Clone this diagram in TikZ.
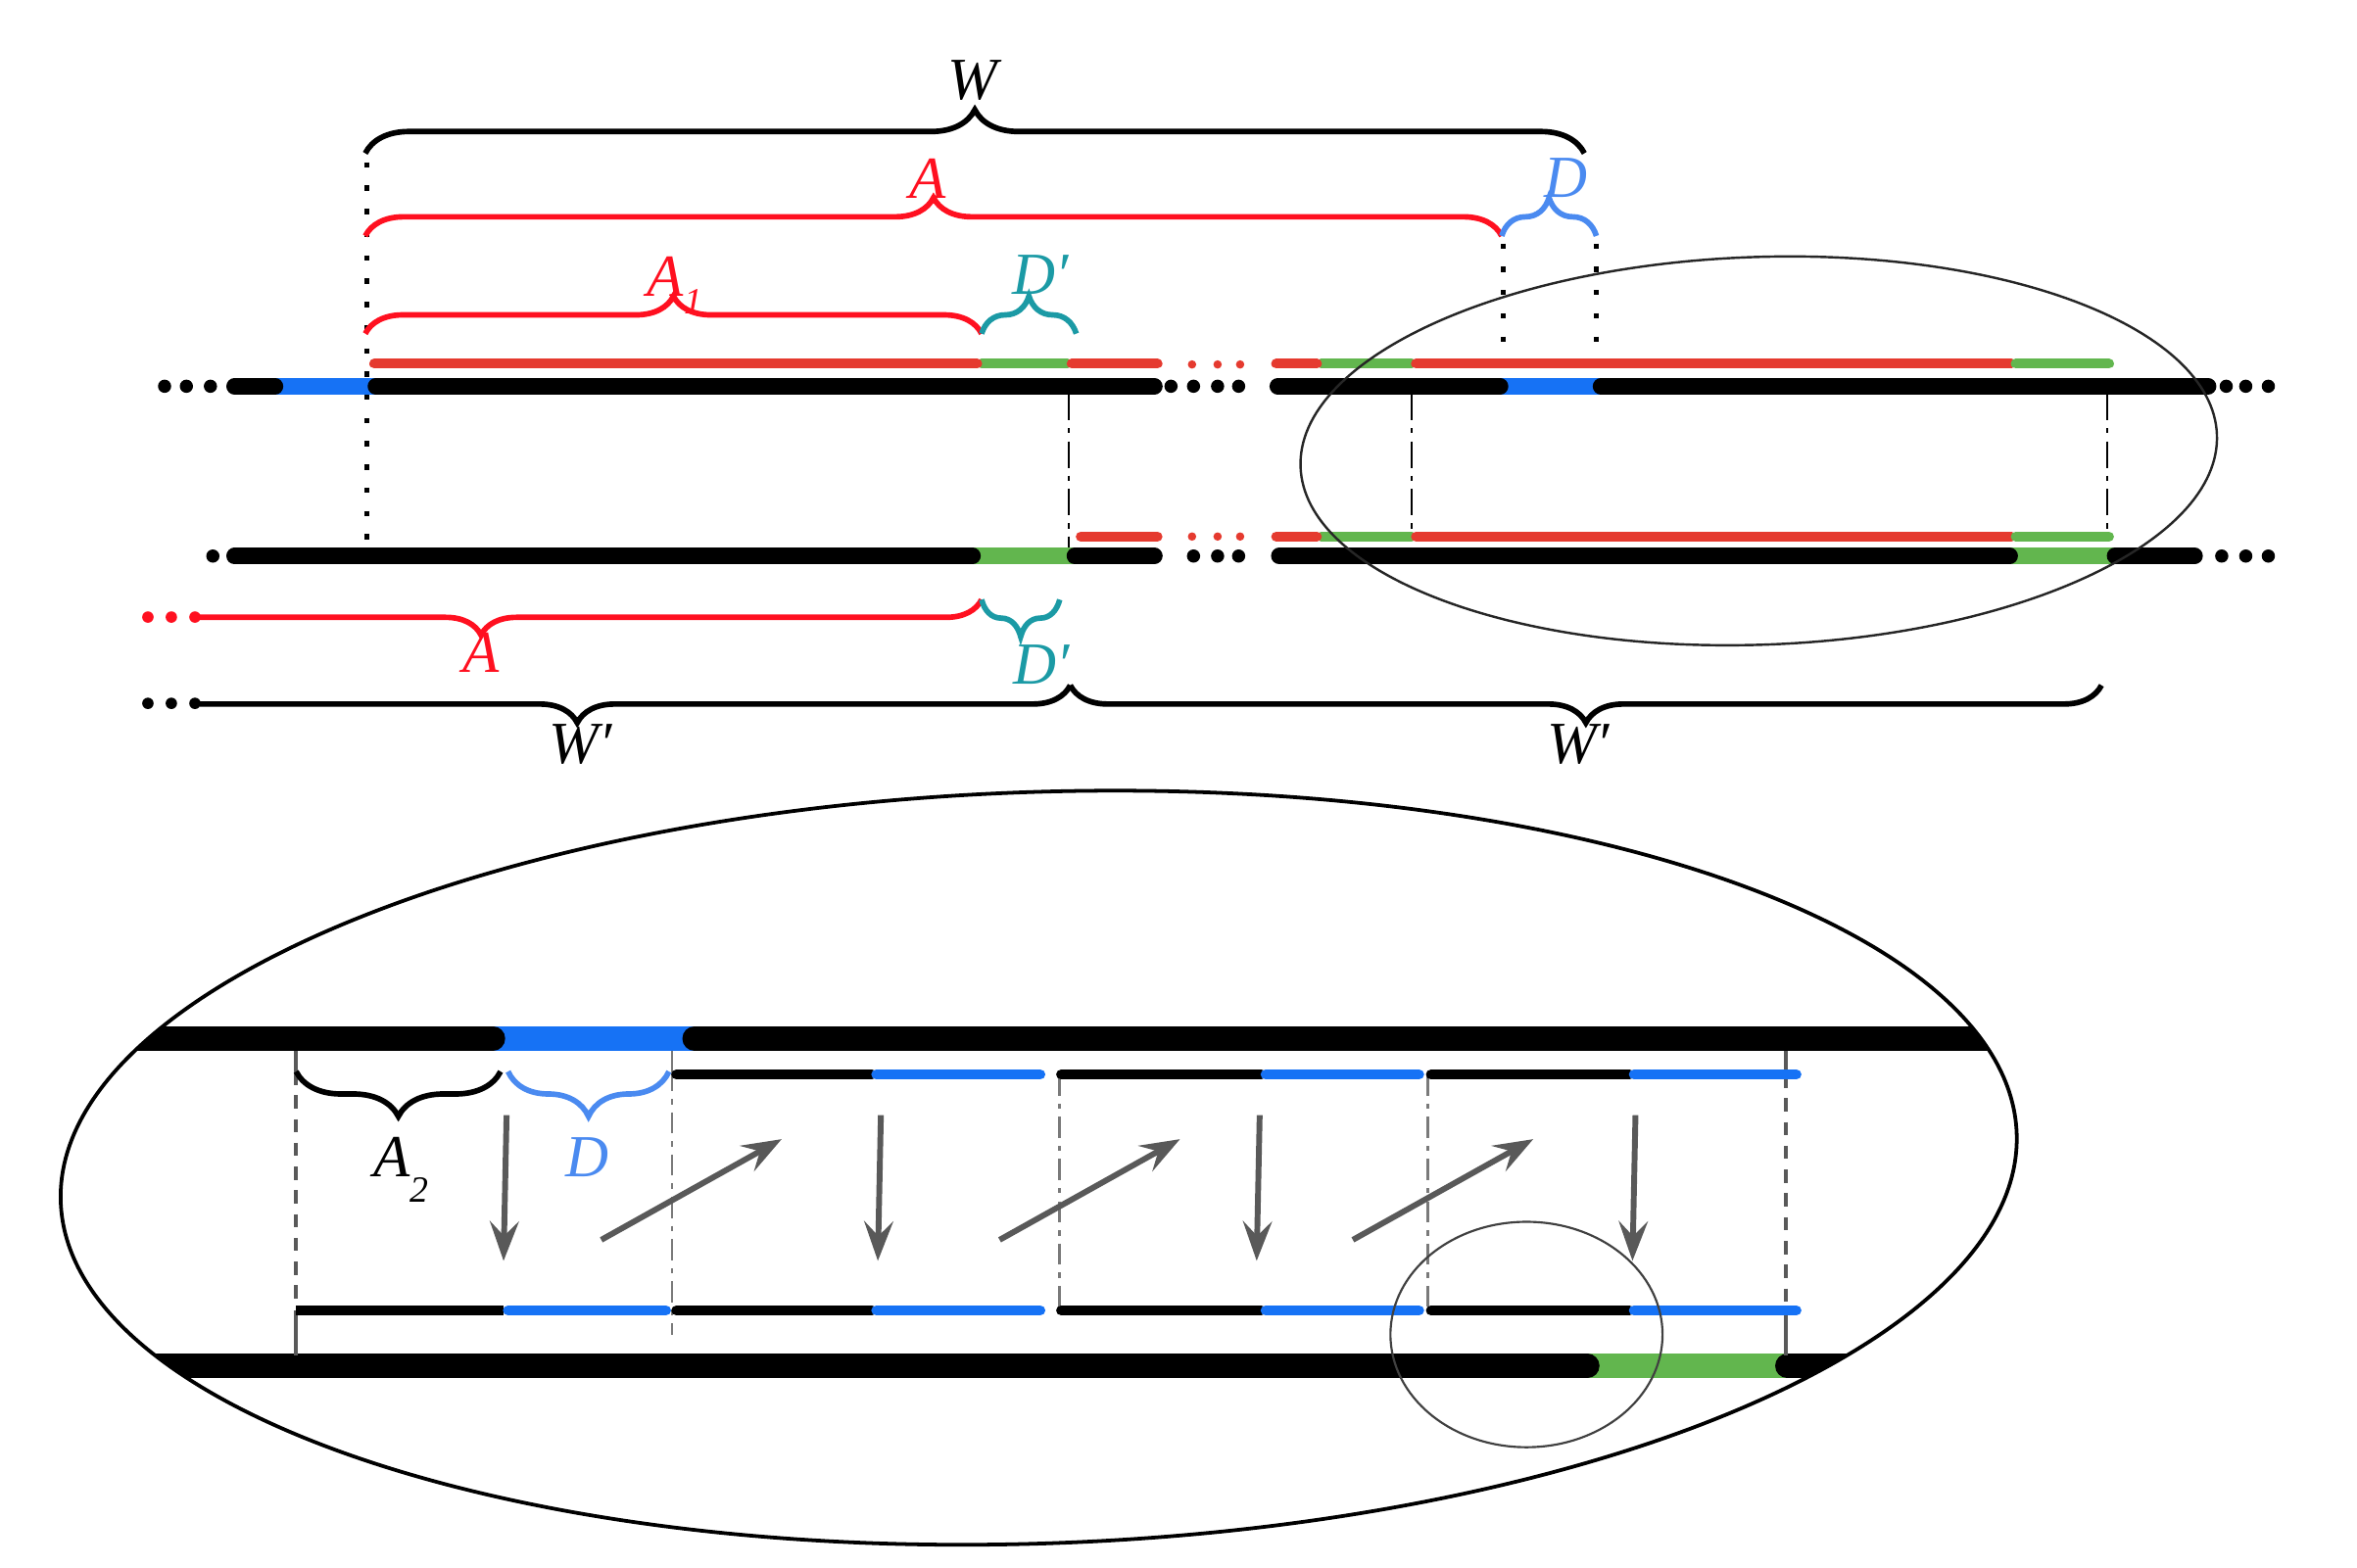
\documentclass[tikz,border=0pt]{standalone}
\usepackage{fontspec}
\setmainfont{Liberation Serif}
\usetikzlibrary{decorations.pathreplacing,arrows.meta}

\definecolor{segred}{HTML}{E53A2F}
\definecolor{bracered}{HTML}{FF1020}
\definecolor{seggreen}{HTML}{62B64E}
\definecolor{segblue}{HTML}{1672F5}
\definecolor{braceblue}{HTML}{4A8AF0}
\definecolor{braceteal}{HTML}{1B9AA5}
\definecolor{arrowgray}{HTML}{595959}

\begin{document}
\begin{tikzpicture}[x=0.1mm,y=-0.1mm,
  chrom/.style={line width=3.1pt},
  strand/.style={line width=1.9pt,line cap=round},
  fat/.style={line width=4.6pt},
  thinstrand/.style={line width=1.95pt,line cap=round},
  brc/.style={decorate,decoration={brace,amplitude=#1},line width=1.05pt},
  lab/.style={font=\fontsize{11.3}{13}\selectfont\itshape,inner sep=0pt,anchor=base},
  guide/.style={line width=1pt,dash pattern=on 1pt off 3.4pt},
  thindash/.style={line width=0.35pt,dash pattern=on 5pt off 1.5pt on 1pt off 1.5pt},
  grayguide/.style={arrowgray!80,line width=0.5pt,dash pattern=on 4pt off 1.5pt on 1pt off 1.5pt},
  darkguide/.style={arrowgray,line width=0.8pt,dash pattern=on 2.5pt off 2pt},
  mv/.style={arrowgray,line width=1.1pt,-{Stealth[length=7.5pt,width=5.5pt,inset=2.8pt]}},
]
\useasboundingbox (0,0) rectangle (1568,1043);

% guides
\draw[guide] (244,108) -- (244,360);
\draw[guide] (1000,162) -- (1000,240);
\draw[guide] (1062,162) -- (1062,240);
\draw[thindash] (711,262) -- (711,366);
\draw[thindash] (939,262) -- (939,358);
\draw[thindash] (1402,262) -- (1402,358);

% braces above
\draw[brc=8.25pt] (243,102) -- (1054,102);
\draw[brc=7.25pt,bracered] (243,157) -- (999,157);
\draw[brc=7.25pt,braceblue] (999,157) -- (1062,157);
\draw[brc=7.1pt,bracered] (243,222) -- (653,222);
\draw[brc=7.1pt,braceteal] (653,222) -- (716,222);

\node[lab] (W) at (647,66) {W};
\node[lab,bracered] (A) at (617,132) {A};
\node[lab,braceblue] (D) at (1042,131) {D};
\node[lab,bracered,anchor=base west] (A1) at (430,197) {A\raisebox{-3.4pt}{\fontsize{7}{8}\selectfont 1}};
\node[lab,braceteal] (D1) at (692,196) {D′};

% upper pair
\draw[strand,seggreen] (653,242) -- (710,242);
\draw[strand,segred] (249,242) -- (650,242);
\draw[strand,segred] (713,242) -- (770,242);
\draw[strand,seggreen] (879,242) -- (939,242);
\draw[strand,segred] (849,242) -- (876,242);
\draw[strand,segred] (942,242) -- (1338,242);
\draw[strand,seggreen] (1341,242) -- (1403,242);

\draw[chrom,segblue] (183,257) -- (250,257);
\draw[chrom,line cap=round] (156,257) -- (183,257);
\draw[chrom,line cap=round] (250,257) -- (768,257);
\draw[chrom,segblue] (998,257) -- (1065,257);
\draw[chrom,line cap=round] (850,257) -- (998,257);
\draw[chrom,line cap=round] (1065,257) -- (1469,257);

% lower pair
\draw[strand,segred] (719,357) -- (770,357);
\draw[strand,seggreen] (879,357) -- (939,357);
\draw[strand,segred] (849,357) -- (876,357);
\draw[strand,segred] (942,357) -- (1338,357);
\draw[strand,seggreen] (1341,357) -- (1403,357);

\draw[chrom,seggreen] (647,370) -- (715,370);
\draw[chrom,line cap=round] (156,370) -- (647,370);
\draw[chrom,line cap=round] (715,370) -- (768,370);
\draw[chrom,seggreen] (1337,370) -- (1407,370);
\draw[chrom,line cap=round] (851,370) -- (1337,370);
\draw[chrom,line cap=round] (1407,370) -- (1460,370);

% dots
\foreach \x in {109.5,124,140,779,794,810,824,1481,1494,1509}
  \fill (\x,257) circle (4.4);
\foreach \x in {141.6,794,810,824,1478,1494,1509}
  \fill (\x,370) circle (4.4);
\foreach \x in {793,810,825}{
  \fill[segred] (\x,242.5) circle (2.8);
  \fill[segred] (\x,357) circle (2.8);
}
\foreach \x in {98.4,114,129.7}{
  \fill[bracered] (\x,410.6) circle (3.8);
  \fill (\x,468) circle (3.8);
}

\draw[line width=0.45pt,black!85,rotate around={2:(1170,300)}] (1170,300) ellipse [x radius=305, y radius=129];

% braces below
\begin{scope}
\clip (133,380) rectangle (1420,520);
\draw[brc=6.7pt,bracered] (653,399) -- (-13,399);
\draw[brc=7.1pt] (712,456) -- (56,456);
\end{scope}
\draw[brc=7pt,braceteal] (705,399) -- (653,399);
\draw[brc=7.1pt] (1398,456) -- (712,456);

\node[lab,bracered] (A0) at (320,447.5) {A};
\node[lab,braceteal] (D2) at (693,455) {D′};
\node[lab] (W1) at (386,508) {W′};
\node[lab] (W2) at (1050,508) {W′};

% zoomed view
\draw[line width=0.7pt,rotate around={2:(691,777)}] (691,777) ellipse [x radius=651, y radius=250];
\begin{scope}
\clip[rotate around={2:(691,777)}] (691,777) ellipse [x radius=651, y radius=250];
\draw[fat,segblue] (328,691) -- (462,691);
\draw[fat,line cap=round] (0,691) -- (328,691);
\draw[fat,line cap=round] (462,691) -- (1600,691);
\draw[fat,seggreen] (1056,909) -- (1189,909);
\draw[fat,line cap=round] (0,909) -- (1056,909);
\draw[fat,line cap=round] (1189,909) -- (1600,909);
\end{scope}

\draw[darkguide] (197,713) -- (197,866);
\draw[arrowgray,line width=0.8pt] (197,699) -- (197,713);
\draw[arrowgray,line width=0.8pt] (197,872) -- (197,902);
\draw[grayguide] (447,712) -- (447,888);
\draw[arrowgray!80,line width=0.5pt] (447,699) -- (447,712);
\draw[grayguide] (705,715) -- (705,872);
\draw[grayguide] (950,715) -- (950,872);
\draw[darkguide] (1188,715) -- (1188,872);
\draw[arrowgray,line width=0.8pt] (1188,699) -- (1188,715);
\draw[arrowgray,line width=0.8pt] (1188,872) -- (1188,902);

\draw[line width=1.95pt] (197,872) -- (335,872);
\draw[thinstrand,segblue] (338,872) -- (443,872);
\foreach \a/\b/\c in {447/580/695,703/839/947,949/1084/1198}{
  \draw[thinstrand] (\a+3,715) -- (\b,715);
  \draw[thinstrand,segblue] (\b+3,715) -- (\c-3,715);
  \draw[thinstrand] (\a+3,872) -- (\b,872);
  \draw[thinstrand,segblue] (\b+3,872) -- (\c-3,872);
}

\draw[brc=8.5pt] (333,713) -- (197,713);
\draw[brc=8.5pt,braceblue] (445,713) -- (338,713);
\node[lab,anchor=base west] (A2) at (248,783) {A\raisebox{-4.8pt}{\fontsize{7}{8}\selectfont 2}};
\node[lab,braceblue] (D3) at (391,783) {D};

\draw[mv] (337,742) -- (335,839);
\draw[mv] (586,742) -- (584,839);
\draw[mv] (838,742) -- (836,839);
\draw[mv] (1088,742) -- (1086,839);
\draw[mv] (400,825) -- (520,758);
\draw[mv] (665,825) -- (785,758);
\draw[mv] (900,825) -- (1020,758);

\draw[line width=0.4pt,black!75] (1015.5,888) ellipse [x radius=90.5, y radius=75];

\end{tikzpicture}
\end{document}
